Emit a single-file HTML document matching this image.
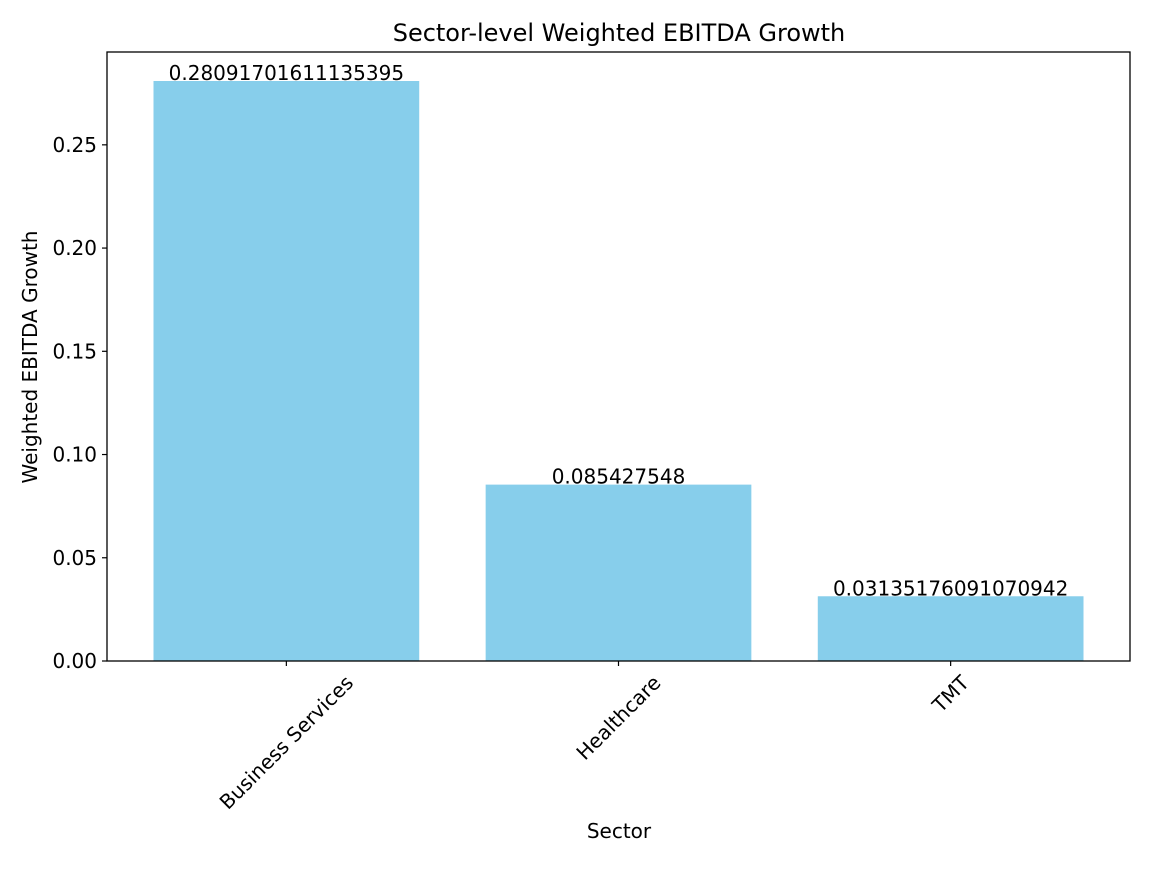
<!DOCTYPE html>
<html><head><meta charset="utf-8"><style>
body{margin:0;background:#fff}
svg text{font-family:"DejaVu Sans","Liberation Sans",sans-serif;fill:#000}
</style></head><body>
<svg id="c" width="1152" height="864" xmlns="http://www.w3.org/2000/svg">
<rect width="1152" height="864" fill="#fff"/>
<text x="619" y="41" font-size="24" text-anchor="middle">Sector-level Weighted EBITDA Growth</text>
<text x="619" y="838" font-size="20" text-anchor="middle">Sector</text>
<text transform="translate(37,357) rotate(-90)" font-size="20" text-anchor="middle">Weighted EBITDA Growth</text>
<g id="plot"></g>
<rect x="107" y="52" width="1023" height="609" fill="none" stroke="#000" stroke-width="1.3"/>
</svg>
<script>
const categories=["Business Services","Healthcare","TMT"];
const values=[0.28091701611135395,0.085427548,0.03135176091070942];
const valueLabels=["0.28091701611135395","0.085427548","0.03135176091070942"];
const yTicks=[0,0.05,0.10,0.15,0.20,0.25];
const yTickLabels=["0.00","0.05","0.10","0.15","0.20","0.25"];
const L=107,R=1130,T=52,B=661;
const ymax=Math.max(...values)*1.05;
const y=v=>B-(v/ymax)*(B-T);
const xmin=-0.54,xmax=categories.length-1+0.54;
const x=i=>L+(i-xmin)/(xmax-xmin)*(R-L);
const bw=0.8*(R-L)/(xmax-xmin);
const g=document.getElementById('plot');
const NS="http://www.w3.org/2000/svg";
function mk(t,a){const e=document.createElementNS(NS,t);for(const k in a)e.setAttribute(k,a[k]);g.appendChild(e);return e;}
yTicks.forEach((v,i)=>{
 const l=mk('line',{x1:L-5,x2:L,y1:y(v),y2:y(v),stroke:'#000','stroke-width':1.2});
 
 
 const t=mk('text',{x:L-10,y:y(v)+7,'font-size':20,'text-anchor':'end'});
 t.textContent=yTickLabels[i];
 
 
});
categories.forEach((c,i)=>{
 const r=mk('rect',{x:x(i)-bw/2,y:y(values[i]),width:bw,height:B-y(values[i]),fill:'#87ceeb'});
 
 
 const vl=mk('text',{x:x(i),y:y(values[i])-1,'font-size':20,'text-anchor':'middle'});
 vl.textContent=valueLabels[i];
 
 
 const tk=mk('line',{x1:x(i),x2:x(i),y1:B,y2:B+5,stroke:'#000','stroke-width':1.2});
 
 
 const t=mk('text',{'font-size':20,'text-anchor':'middle','dominant-baseline':'central'});
 t.textContent=c;
 
 
 const w=t.getComputedTextLength();
 const cy=672+(w*0.7071+20*0.7071)/2;
 t.setAttribute('x',x(i));t.setAttribute('y',cy);
 t.setAttribute('transform','rotate(-45,'+x(i)+','+cy+')');
});
</script>
</body></html>
